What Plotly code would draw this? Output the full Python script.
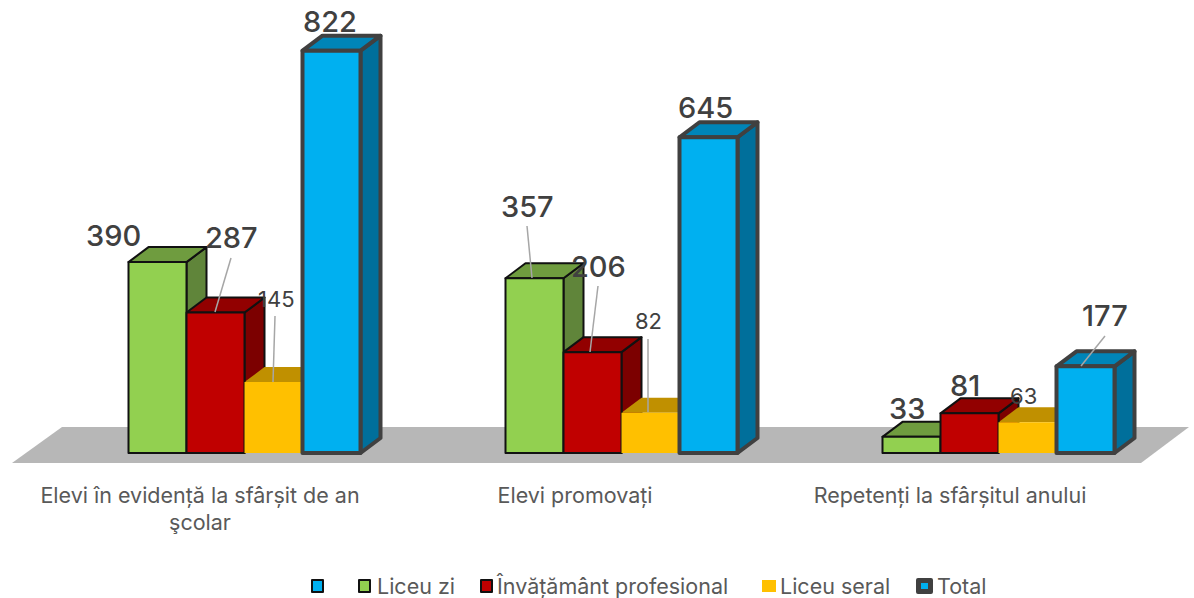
import plotly.graph_objects as go

categories = ["Elevi în evidență la sfârșit de an<br>şcolar", "Elevi promovați", "Repetenți la sfârșitul anului"]
series_names = ["Liceu zi", "Învățământ profesional", "Liceu seral", "Total"]
liceu_zi = [390, 357, 33]
inv_profesional = [287, 206, 81]
liceu_seral = [145, 82, 63]
total = [822, 645, 177]
all_values = [liceu_zi, inv_profesional, liceu_seral, total]

front = ["#92D050", "#C00000", "#FFC000", "#00B0F0"]
top_c = ["#6F9C3F", "#920000", "#C09000", "#0085B8"]
side_c = ["#60853A", "#7C0000", "#A57C00", "#006F9B"]
edge = ["#111111", "#111111", None, "#404040"]
edge_w = [2, 2, 0, 4]
FONT = "Inter"

W, H = 1194, 598
PLOT_BOTTOM = 480
ORIGIN_PX, GROUP_PX = 244.5, 377.0
BASE_PX, UNIT_PX = 453.0, 0.4895
BAR_PX = 58.0
DEPTH_X, DEPTH_Y = 20, 15


def dx(p):
    return p / GROUP_PX


def dy(p):
    return p / UNIT_PX


def X(p):
    return (p - ORIGIN_PX) / GROUP_PX


def Y(p):
    return (BASE_PX - p) / UNIT_PX


def poly(pts):
    return "M" + " L".join(f"{a},{b}" for a, b in pts) + " Z"


fig = go.Figure()
shapes = []
# floor
shapes.append(dict(type="path", xref="x", yref="y", layer="below", line_width=0, fillcolor="#B7B7B7",
                   path=poly([(X(12), Y(463)), (X(62), Y(427)), (X(1189), Y(427)), (X(1141), Y(463))])))

w = dx(BAR_PX)
for s, vals in enumerate(all_values):
    for g, v in enumerate(vals):
        x0 = g - 2 * w + s * w
        x1 = x0 + w
        d, h = dx(DEPTH_X), dy(DEPTH_Y)
        ln = dict(width=edge_w[s], color=edge[s]) if edge[s] else dict(width=0)
        shapes.append(dict(type="path", xref="x", yref="y", layer="below", fillcolor=side_c[s], line=ln,
                           path=poly([(x1, 0), (x1 + d, h), (x1 + d, v + h), (x1, v)])))
        shapes.append(dict(type="path", xref="x", yref="y", layer="below", fillcolor=top_c[s], line=ln,
                           path=poly([(x0, v), (x0 + d, v + h), (x1 + d, v + h), (x1, v)])))

for s, vals in enumerate(all_values):
    fig.add_trace(go.Bar(x=[0, 1, 2], y=vals, name=series_names[s], showlegend=False,
                         marker=dict(color=front[s], line=dict(color=edge[s] or front[s], width=edge_w[s]))))

# data labels: (series, group, label centre x, label centre y, font size, leader)
labels = [
    (0, 0, 113, 235, 29, None),
    (1, 0, 231, 237, 29, (231, 258, 215, 312)),
    (2, 0, 276, 299, 22, (275, 316, 273, 382)),
    (3, 0, 330, 21, 29, None),
    (0, 1, 527, 206, 29, (527, 226, 532, 278)),
    (1, 1, 598, 266, 29, (598, 286, 590, 352)),
    (2, 1, 648, 321, 22, (648, 339, 648, 412)),
    (3, 1, 705, 107, 29, None),
    (0, 2, 907, 408, 29, None),
    (1, 2, 965, 385, 29, None),
    (2, 2, 1023, 396, 22, None),
    (3, 2, 1105, 315, 29, (1105, 336, 1081, 366)),
]
anns = []
for s, g, cx, cy, fs, leader in labels:
    anns.append(dict(x=X(cx), y=Y(cy), xref="x", yref="y", text=str(all_values[s][g]), showarrow=False,
                     xanchor="center", yanchor="middle",
                     font=dict(family=FONT, size=fs, color="#404040", weight=500 if fs > 25 else 400)))
    if leader:
        a, b, c, e = leader
        shapes.append(dict(type="line", xref="x", yref="y", x0=X(a), y0=Y(b), x1=X(c), y1=Y(e),
                           line=dict(color="#A6A6A6", width=1.5)))


def px(p):
    return p / W


def py(p):
    return (PLOT_BOTTOM - p) / PLOT_BOTTOM


# legend
legend_items = [
    ("", 312, 323, "#00B0F0", "#111111", 2, None),
    (series_names[0], 359, 370, "#92D050", "#111111", 2, 377),
    (series_names[1], 481, 492, "#C00000", "#111111", 2, 496),
    (series_names[2], 762, 776, "#FFC000", "#FFC000", 0, 780),
    (series_names[3], 918, 931, "#404040", "#404040", 4, 937),
]
for name, a, b, fill, lc, lw, tx in legend_items:
    shapes.append(dict(type="rect", xref="paper", yref="paper", x0=px(a), x1=px(b), y0=py(592), y1=py(580),
                       fillcolor=fill, line=dict(color=lc, width=lw)))
    if name:
        anns.append(dict(x=px(tx), y=py(586), xref="paper", yref="paper", text=name, showarrow=False,
                         xanchor="left", yanchor="middle", xshift=-2,
                         font=dict(family=FONT, size=21.5, color="#595959")))
shapes.append(dict(type="rect", xref="paper", yref="paper", x0=px(921), x1=px(928), y0=py(589), y1=py(583),
                   fillcolor="#00B0F0", line_width=0))

fig.update_layout(
    width=W, height=H, autosize=False,
    margin=dict(l=0, r=0, t=0, b=H - PLOT_BOTTOM),
    paper_bgcolor="white", plot_bgcolor="white",
    barmode="group", bargap=1 - 4 * w, bargroupgap=0,
    showlegend=False, shapes=shapes, annotations=anns,
    xaxis=dict(range=[X(0), X(W)], tickmode="array", tickvals=[X(200), X(575), X(950)], ticktext=categories,
               showgrid=False, zeroline=False, showline=False, ticks="", automargin=False,
               tickfont=dict(family=FONT, size=21.5, color="#595959")),
    yaxis=dict(range=[Y(PLOT_BOTTOM), Y(0)], showticklabels=False, showgrid=False, zeroline=False,
               showline=False, ticks="", automargin=False),
)
fig.write_html("out.html", config=dict(displayModeBar=False),
               post_script=("document.body.style.margin='0';document.documentElement.style.overflow='hidden';"
                            "document.querySelectorAll('.shapelayer path, .bars path').forEach(function(p){"
                            "p.style.strokeLinejoin='round';});"))
